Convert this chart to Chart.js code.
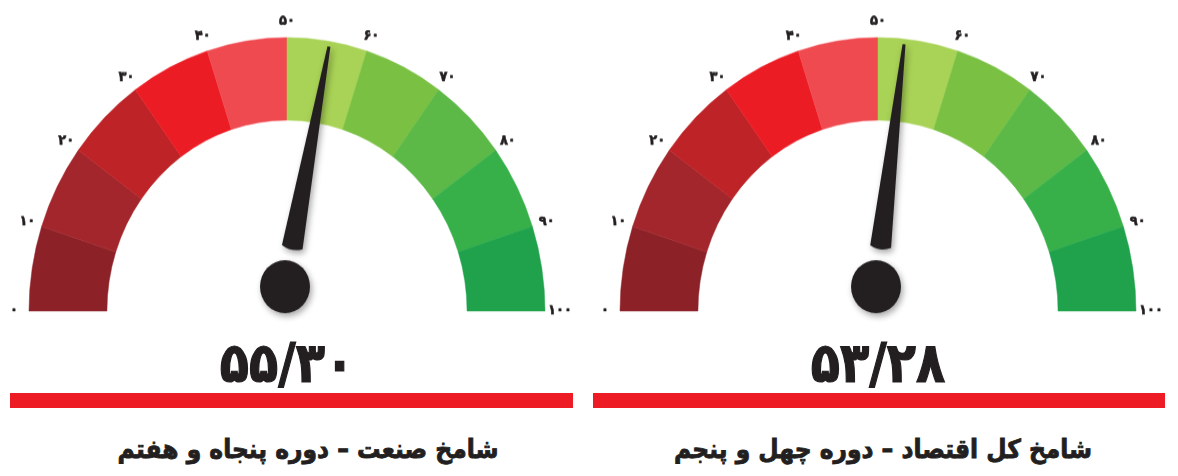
<!DOCTYPE html>
<html><head><meta charset="utf-8">
<script src="https://cdn.jsdelivr.net/npm/chart.js@4.4.0/dist/chart.umd.min.js"></script>
<style>
html,body{margin:0;padding:0;background:#fff;}
body{width:1178px;height:476px;overflow:hidden;position:relative;font-family:"DejaVu Sans Condensed","DejaVu Sans",sans-serif;}
.g{position:absolute;top:9px;width:580px;height:330px;transform-origin:290px 302px;transform:scaleY(1.06);}
.g canvas{display:block;}
.val{position:absolute;top:331px;width:300px;text-align:center;font-weight:bold;font-size:56px;line-height:64px;color:#231f20;transform:scaleX(0.95);-webkit-text-stroke:1.2px #231f20;}
.bar{position:absolute;top:393px;height:15px;background:#ED1C24;}
.ttl{position:absolute;top:429px;width:460px;text-align:center;direction:rtl;font-weight:bold;font-size:26px;line-height:40px;color:#231f20;-webkit-text-stroke:0.8px #231f20;}
</style>
</head><body>
<div class="g" id="g0"><canvas id="c0"></canvas></div>
<div class="g" id="g1"><canvas id="c1"></canvas></div>
<div class="val" id="v0"></div>
<div class="val" id="v1"></div>
<div class="bar" style="left:10px;width:563px"></div>
<div class="bar" style="left:593px;width:572px"></div>
<div class="ttl" id="t0"></div>
<div class="ttl" id="t1"></div>
<script>
const bandSizes = [10, 10, 10, 10, 10, 10, 10, 10, 10, 10];
const bandColors = ['#8C2228', '#A2262B', '#BD2327', '#EC1C24', '#EF4A50', '#A9D356', '#7AC143', '#5CB947', '#38B04A', '#1FA24B'];
const tickValues = [0, 10, 20, 30, 40, 50, 60, 70, 80, 90, 100];
const tickLabels = ['۰', '۱۰', '۲۰', '۳۰', '۴۰', '۵۰', '۶۰', '۷۰', '۸۰', '۹۰', '۱۰۰'];
const gaugeValues = [55.30, 53.28];
const gaugeValueLabels = ['۵۵/۳۰', '۵۳/۲۸'];
const gaugeTitles = ['شامخ صنعت – دوره پنجاه و هفتم', 'شامخ کل اقتصاد – دوره چهل و پنجم'];

const gaugeCenters = [287, 878];
const titleCenters = [308, 883];

const gaugePlugin = {
  id: 'gaugeNeedle',
  afterDatasetsDraw(chart) {
    const meta = chart.getDatasetMeta(0);
    const first = meta.data[0];
    const last = meta.data[meta.data.length - 1];
    const cx = first.x, cy = first.y, R = first.outerRadius;
    const a0 = first.startAngle, a1 = last.endAngle;
    const total = bandSizes.reduce((s, v) => s + v, 0);
    const angleOf = v => a0 + (v / total) * (a1 - a0);
    const ctx = chart.ctx;
    ctx.save();
    ctx.fillStyle = '#231f20';
    ctx.strokeStyle = '#231f20';
    ctx.lineWidth = 0.6;
    ctx.font = 'bold 13px "DejaVu Sans"';
    ctx.textAlign = 'center';
    ctx.textBaseline = 'middle';
    tickValues.forEach((v, i) => {
      const a = angleOf(v);
      const r = R + 15;
      const x = cx + r * Math.cos(a), y = cy + r * Math.sin(a);
      ctx.fillText(tickLabels[i], x, y);
      ctx.strokeText(tickLabels[i], x, y);
    });
    const value = chart.options.plugins.gaugeNeedle.value;
    const a = angleOf(value);
    const px = cx - 2, py = cy - 23;
    const tx = cx + (R - 5) * Math.cos(a), ty = cy + (R - 5) * Math.sin(a);
    let ux = tx - px, uy = ty - py;
    const len = Math.hypot(ux, uy);
    ux /= len; uy /= len;
    const nx = -uy, ny = ux;
    const bx = px + ux * 38, by = py + uy * 38;
    const bw = 10.5, tw = 1.5;
    ctx.shadowColor = 'rgba(0,0,0,0.35)';
    ctx.shadowBlur = 6;
    ctx.shadowOffsetX = 2;
    ctx.shadowOffsetY = 3;
    ctx.beginPath();
    ctx.moveTo(tx + nx * tw, ty + ny * tw);
    ctx.lineTo(tx - nx * tw, ty - ny * tw);
    ctx.lineTo(bx - nx * bw, by - ny * bw);
    ctx.quadraticCurveTo(bx - ux * 5, by - uy * 5, bx + nx * bw, by + ny * bw);
    ctx.closePath();
    ctx.fill();
    ctx.beginPath();
    ctx.arc(px, py, 25, 0, Math.PI * 2);
    ctx.fill();
    ctx.restore();
  }
};

gaugeValues.forEach((val, k) => {
  const g = document.getElementById('g' + k);
  g.style.left = (gaugeCenters[k] - 290) + 'px';
  new Chart(document.getElementById('c' + k), {
    type: 'doughnut',
    data: {
      labels: tickLabels.slice(0, bandSizes.length),
      datasets: [{
        data: bandSizes,
        backgroundColor: bandColors,
        borderColor: bandColors,
        borderWidth: 0.5
      }]
    },
    options: {
      responsive: true,
      maintainAspectRatio: false,
      animation: false,
      events: [],
      rotation: -90,
      circumference: 180,
      radius: 258,
      cutout: '69.8%',
      layout: { padding: { left: 32, right: 32, top: 44, bottom: 28 } },
      plugins: {
        legend: { display: false },
        tooltip: { enabled: false },
        gaugeNeedle: { value: val }
      }
    },
    plugins: [gaugePlugin]
  });
  const v = document.getElementById('v' + k);
  v.textContent = gaugeValueLabels[k];
  v.style.left = (gaugeCenters[k] - 150) + 'px';
  const t = document.getElementById('t' + k);
  t.textContent = gaugeTitles[k];
  t.style.left = (titleCenters[k] - 230) + 'px';
});
</script>
</body></html>
